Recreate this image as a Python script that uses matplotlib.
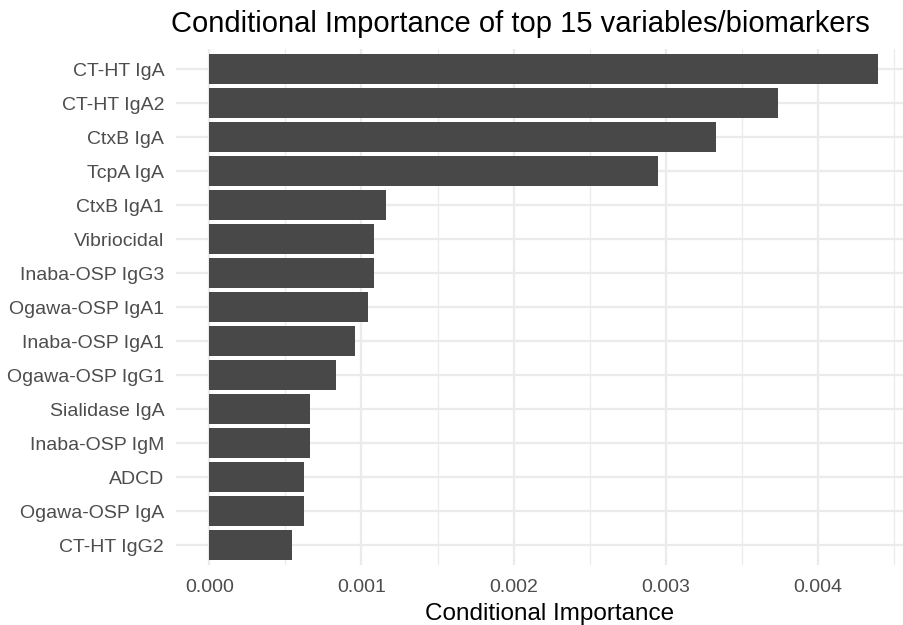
import matplotlib
matplotlib.use("Agg")
import matplotlib.pyplot as plt
from matplotlib.ticker import MultipleLocator, FormatStrFormatter

# Data (top to bottom, as shown)
markers = [
    "CT-HT IgA", "CT-HT IgA2", "CtxB IgA", "TcpA IgA", "CtxB IgA1",
    "Vibriocidal", "Inaba-OSP IgG3", "Ogawa-OSP IgA1", "Inaba-OSP IgA1",
    "Ogawa-OSP IgG1", "Sialidase IgA", "Inaba-OSP IgM", "ADCD",
    "Ogawa-OSP IgA", "CT-HT IgG2",
]
importance = [
    0.00440, 0.00374, 0.00333, 0.00295, 0.00116,
    0.00108, 0.00108, 0.00104, 0.00096,
    0.00083, 0.00066, 0.00066, 0.00062,
    0.00062, 0.00054,
]

plt.rcParams["font.family"] = ["Liberation Sans", "DejaVu Sans"]

W, H = 904, 625
fig = plt.figure(figsize=(W / 100, H / 100), dpi=100)
ax = fig.add_axes([176 / W, 1 - 565.4 / H, (W - 176) / W, (565.4 - 48.6) / H])

ax.barh(markers, importance, height=0.9, color="#484848", zorder=3)

ax.set_ylim(len(markers) - 0.4, -0.6)
ax.set_xlim(-0.00022, 0.004568)

ax.xaxis.set_major_locator(MultipleLocator(0.001))
ax.xaxis.set_minor_locator(MultipleLocator(0.0005))
ax.xaxis.set_major_formatter(FormatStrFormatter("%.3f"))

ax.grid(True, which="major", color="#EBEBEB", linewidth=1.6, zorder=0)
ax.grid(True, which="minor", axis="x", color="#EBEBEB", linewidth=0.9, zorder=0)
ax.set_axisbelow(True)

for s in ax.spines.values():
    s.set_visible(False)
ax.tick_params(which="both", length=0)
ax.tick_params(axis="y", labelsize=14, labelcolor="#4D4D4D", pad=8.5)
ax.tick_params(axis="x", labelsize=14, labelcolor="#4D4D4D", pad=9.5)

ax.set_xlabel("Conditional Importance", fontsize=17.5, color="black")
ax.xaxis.set_label_coords((550 - 176) / (W - 176), -0.072)

fig.text(171 / W, 1 - 32 / H, "Conditional Importance of top 15 variables/biomarkers",
         fontsize=21, color="black", ha="left", va="baseline")

fig.savefig("out.png", dpi=100)
